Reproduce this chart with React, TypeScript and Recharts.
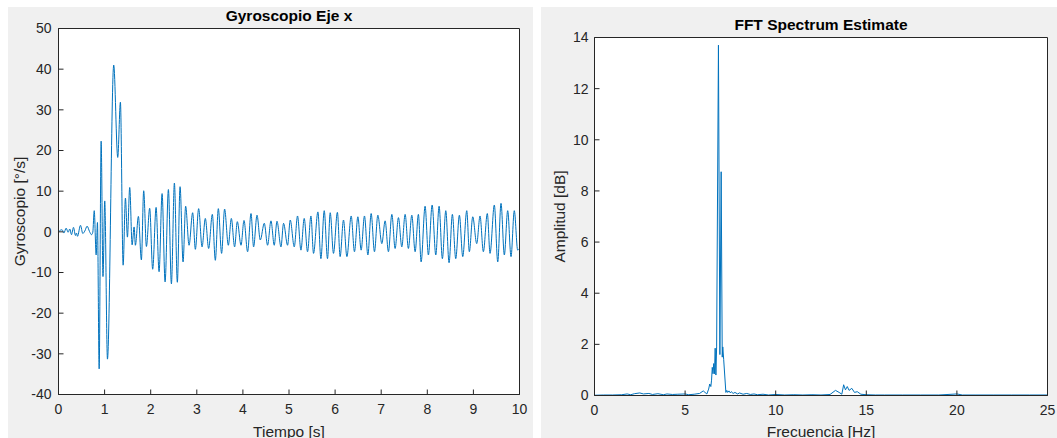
import { CartesianGrid, Line, LineChart, ReferenceArea, XAxis, YAxis } from "recharts";

// gyroscope x axis, peaks and troughs (s, deg/s)
const gyroTime = [
  0, 0.04, 0.079, 0.116, 0.166, 0.209, 0.245, 0.282, 0.325, 0.368, 0.39, 0.412, 0.477, 0.527, 0.571, 0.621,
  0.672, 0.715, 0.744, 0.775, 0.817, 0.845, 0.882, 0.925, 0.965, 1.003, 1.062, 1.198, 1.285, 1.343, 1.402,
  1.452, 1.495, 1.545, 1.597, 1.64, 1.668, 1.733, 1.798, 1.848, 1.907, 1.978, 2.043, 2.117, 2.182, 2.247,
  2.312, 2.384, 2.449, 2.514, 2.578, 2.637, 2.702, 2.758, 2.832, 2.91, 2.969, 3.04, 3.114, 3.185, 3.257,
  3.337, 3.402, 3.467, 3.538, 3.603, 3.684, 3.749, 3.82, 3.879, 3.959, 4.024, 4.102, 4.176, 4.232, 4.306,
  4.377, 4.464, 4.535, 4.609, 4.68, 4.739, 4.826, 4.882, 4.969, 5.027, 5.114, 5.185, 5.259, 5.33, 5.402,
  5.476, 5.532, 5.627, 5.692, 5.764, 5.835, 5.894, 5.965, 6.05, 6.109, 6.182, 6.256, 6.349, 6.42, 6.494,
  6.565, 6.637, 6.711, 6.782, 6.854, 6.927, 7.014, 7.085, 7.157, 7.231, 7.302, 7.374, 7.447, 7.519, 7.59,
  7.664, 7.736, 7.807, 7.866, 7.952, 8.024, 8.105, 8.184, 8.256, 8.327, 8.401, 8.472, 8.544, 8.617, 8.696,
  8.769, 8.856, 8.912, 8.986, 9.072, 9.144, 9.216, 9.302, 9.361, 9.454, 9.528, 9.599, 9.671, 9.744, 9.816,
  9.887, 9.961, 9.98,
];
const gyroRate = [
  0, 0.4, 0.5, -0.3, 0.9, -0.1, 0.7, -0.7, 1.1, -0.9, -0.3, -1.1, 1.6, -0.4, 0.2, 1.4,
  0.1, -0.7, -0.1, 5.2, -5.7, 2.3, -33.7, 22.3, -11, 7.6, -31.3, 41, 18.3, 31.9, -8.2,
  8.3, -1.3, 10.9, -3.2, 1.2, -3.3, 3.8, -6.9, 10.1, -3.6, 5.8, -9.2, 6, -9.8, 9.4,
  -12.3, 10.4, -12.8, 12, -12.4, 11.1, -7.4, 6.3, -3.3, 4.7, -4.3, 5.7, -3.7, 3.3, -4.1,
  4.3, -7, 5.7, -5.3, 5.6, -3.3, 3.3, -3.7, 2.5, -3.3, 2.8, -4.9, 4.5, -3.7, 4.1,
  -2, 2.1, -3.3, 2.7, -3.3, 2.6, -3.7, 2.1, -3.3, 2.9, -3.7, 3.9, -4.5, 3.3, -4.9,
  3.9, -5.3, 4.9, -6.6, 5.2, -6.6, 4.7, -5.3, 4.8, -6.1, 2.9, -6.1, 3.9, -4.9, 3.7,
  -4.5, 3.9, -5.7, 4.5, -4.9, 4.1, -2.9, 2.7, -4.9, 4.3, -4.1, 3.5, -3.7, 4.3, -4.1,
  4.1, -4.9, 4.3, -7.4, 6.3, -5.7, 6.6, -5.7, 6.3, -6.6, 5.2, -7.6, 4.3, -6.6, 4.1,
  -6.1, 5.2, -4.9, 3.7, -2.9, 3.9, -4.9, 4.5, -5.3, 6.6, -7.4, 7, -5.7, 5.2, -6.1,
  5.2, -4.5, -4.2,
];
const gyroTicksX = [0, 1, 2, 3, 4, 5, 6, 7, 8, 9, 10];
const gyroTicksY = [-40, -30, -20, -10, 0, 10, 20, 30, 40, 50];

// FFT spectrum estimate (Hz, dB)
const fftFreq = [
  0, 0.5, 1, 1.5, 1.8, 2, 2.2, 2.5, 2.7, 3, 3.2, 3.5, 3.8, 4, 4.3, 4.6, 5, 5.2, 5.5, 5.8,
  6, 6.1, 6.2, 6.3, 6.36, 6.42, 6.46, 6.5, 6.54, 6.58, 6.62, 6.66, 6.7, 6.74, 6.84, 6.92, 6.99,
  7.05, 7.08, 7.13, 7.25, 7.3, 7.35, 7.42, 7.5, 7.55, 7.65, 7.75, 7.9, 8, 8.2, 8.4, 8.6, 8.8,
  9, 9.3, 9.6, 10, 10.5, 11, 11.5, 12, 12.5, 13, 13.3, 13.5, 13.65, 13.75, 13.85, 13.95, 14.05,
  14.2, 14.35, 14.5, 14.7, 15, 15.5, 16, 17, 18, 19, 20, 20.3, 21, 22, 23, 24, 25,
];
const fftAmp = [
  0.01, 0.02, 0.02, 0.03, 0.06, 0.03, 0.07, 0.1, 0.06, 0.08, 0.04, 0.07, 0.03, 0.06, 0.04, 0.05, 0.06, 0.03, 0.05, 0.08,
  0.18, 0.12, 0.06, 0.25, 0.45, 0.35, 0.6, 1.1, 0.85, 1.25, 0.85, 1.85, 0.8, 1.9, 13.7, 1.6, 8.75,
  1.5, 1.9, 1.4, 0.12, 0.2, 0.12, 0.18, 0.1, 0.15, 0.08, 0.12, 0.06, 0.1, 0.05, 0.08, 0.04, 0.06,
  0.03, 0.05, 0.02, 0.04, 0.02, 0.03, 0.02, 0.03, 0.02, 0.04, 0.2, 0.12, 0.05, 0.42, 0.22, 0.35, 0.2,
  0.28, 0.12, 0.15, 0.05, 0.03, 0.02, 0.02, 0.02, 0.02, 0.02, 0.06, 0.02, 0.02, 0.02, 0.02, 0.02, 0.02,
];
const fftTicksX = [0, 5, 10, 15, 20, 25];
const fftTicksY = [0, 2, 4, 6, 8, 10, 12, 14];

const gyroData = gyroTime.map((t, i) => ({ t, v: gyroRate[i] }));
const fftData = fftFreq.map((f, i) => ({ f, a: fftAmp[i] }));

const INK = "#262626";
const BLUE = "#0072bd";
const PANEL = "#f0f0f0";
const FONT = '"Liberation Sans", Arial, Helvetica, sans-serif';
const tickStyle = { fill: INK, fontSize: 14, fontFamily: FONT };
const blank = () => "";

type CaptionProps = {
  width: number;
  height: number;
  title: string;
  titleX: number;
  titleY: number;
  xLabel: string;
  xLabelY: number;
  yLabel: string;
  yLabelX: number;
  yLabelY: number;
};

function Captions(p: CaptionProps) {
  return (
    <svg
      width={p.width}
      height={p.height}
      style={{ position: "absolute", left: 0, top: 0, pointerEvents: "none" }}
    >
      <text x={p.titleX} y={p.titleY} textAnchor="middle" fontFamily={FONT} fontSize={15.5} fontWeight="bold" fill="#000">
        {p.title}
      </text>
      <text x={p.titleX} y={p.xLabelY} textAnchor="middle" fontFamily={FONT} fontSize={15.5} fill={INK}>
        {p.xLabel}
      </text>
      <text
        transform={`translate(${p.yLabelX},${p.yLabelY}) rotate(-90)`}
        textAnchor="middle"
        fontFamily={FONT}
        fontSize={15.5}
        fill={INK}
      >
        {p.yLabel}
      </text>
    </svg>
  );
}

export default function App() {
  return (
    <div style={{ position: "absolute", left: 8, top: 7, width: 1049, height: 431 }}>
      <div style={{ position: "absolute", left: 0, top: 0, width: 525, height: 431, background: PANEL }}>
        <LineChart width={525} height={431} data={gyroData} margin={{ top: 21.5, right: 13.5, bottom: 0, left: 10.5 }}>
          <CartesianGrid fill="#ffffff" horizontal={false} vertical={false} />
          <XAxis
            dataKey="t"
            type="number"
            domain={[0, 10]}
            ticks={gyroTicksX}
            interval={0}
            height={43.5}
            stroke={INK}
            tickSize={-5}
            tickMargin={15}
            tick={tickStyle}
          />
          <XAxis xAxisId="top" orientation="top" type="number" domain={[0, 10]} ticks={gyroTicksX} interval={0} height={0} stroke={INK} tickSize={-5} tickFormatter={blank} />
          <YAxis
            type="number"
            domain={[-40, 50]}
            ticks={gyroTicksY}
            interval={0}
            width={40}
            stroke={INK}
            tickSize={-5}
            tickMargin={12}
            tick={tickStyle}
          />
          <YAxis yAxisId="right" orientation="right" type="number" domain={[-40, 50]} ticks={gyroTicksY} interval={0} width={0} stroke={INK} tickSize={-5} tickFormatter={blank} />
          <ReferenceArea x1={0} x2={10} y1={-40} y2={50} fill="none" stroke={INK} strokeWidth={1} />
          <Line dataKey="v" type="monotone" stroke={BLUE} strokeWidth={1} dot={false} isAnimationActive={false} />
        </LineChart>
        <Captions
          width={525}
          height={431}
          title="Gyroscopio Eje x"
          titleX={281}
          titleY={14.4}
          xLabel="Tiempo [s]"
          xLabelY={429.5}
          yLabel="Gyroscopio [°/s]"
          yLabelX={17}
          yLabelY={204.5}
        />
      </div>
      <div style={{ position: "absolute", left: 533, top: 0, width: 516, height: 431, background: PANEL }}>
        <LineChart width={516} height={431} data={fftData} margin={{ top: 30.5, right: 9.5, bottom: 0, left: 10 }}>
          <CartesianGrid fill="#ffffff" horizontal={false} vertical={false} />
          <XAxis
            dataKey="f"
            type="number"
            domain={[0, 25]}
            ticks={fftTicksX}
            interval={0}
            height={42.5}
            stroke={INK}
            tickSize={-5}
            tickMargin={15}
            tick={tickStyle}
          />
          <XAxis xAxisId="top" orientation="top" type="number" domain={[0, 25]} ticks={fftTicksX} interval={0} height={0} stroke={INK} tickSize={-5} tickFormatter={blank} />
          <YAxis
            type="number"
            domain={[0, 14]}
            ticks={fftTicksY}
            interval={0}
            width={43.5}
            stroke={INK}
            tickSize={-5}
            tickMargin={11}
            tick={tickStyle}
          />
          <YAxis yAxisId="right" orientation="right" type="number" domain={[0, 14]} ticks={fftTicksY} interval={0} width={0} stroke={INK} tickSize={-5} tickFormatter={blank} />
          <ReferenceArea x1={0} x2={25} y1={0} y2={14} fill="none" stroke={INK} strokeWidth={1} />
          <Line dataKey="a" type="linear" stroke={BLUE} strokeWidth={1} dot={false} isAnimationActive={false} />
        </LineChart>
        <Captions
          width={516}
          height={431}
          title="FFT Spectrum Estimate"
          titleX={280}
          titleY={22.6}
          xLabel="Frecuencia [Hz]"
          xLabelY={429.5}
          yLabel="Amplitud [dB]"
          yLabelX={23.6}
          yLabelY={209.5}
        />
      </div>
    </div>
  );
}
